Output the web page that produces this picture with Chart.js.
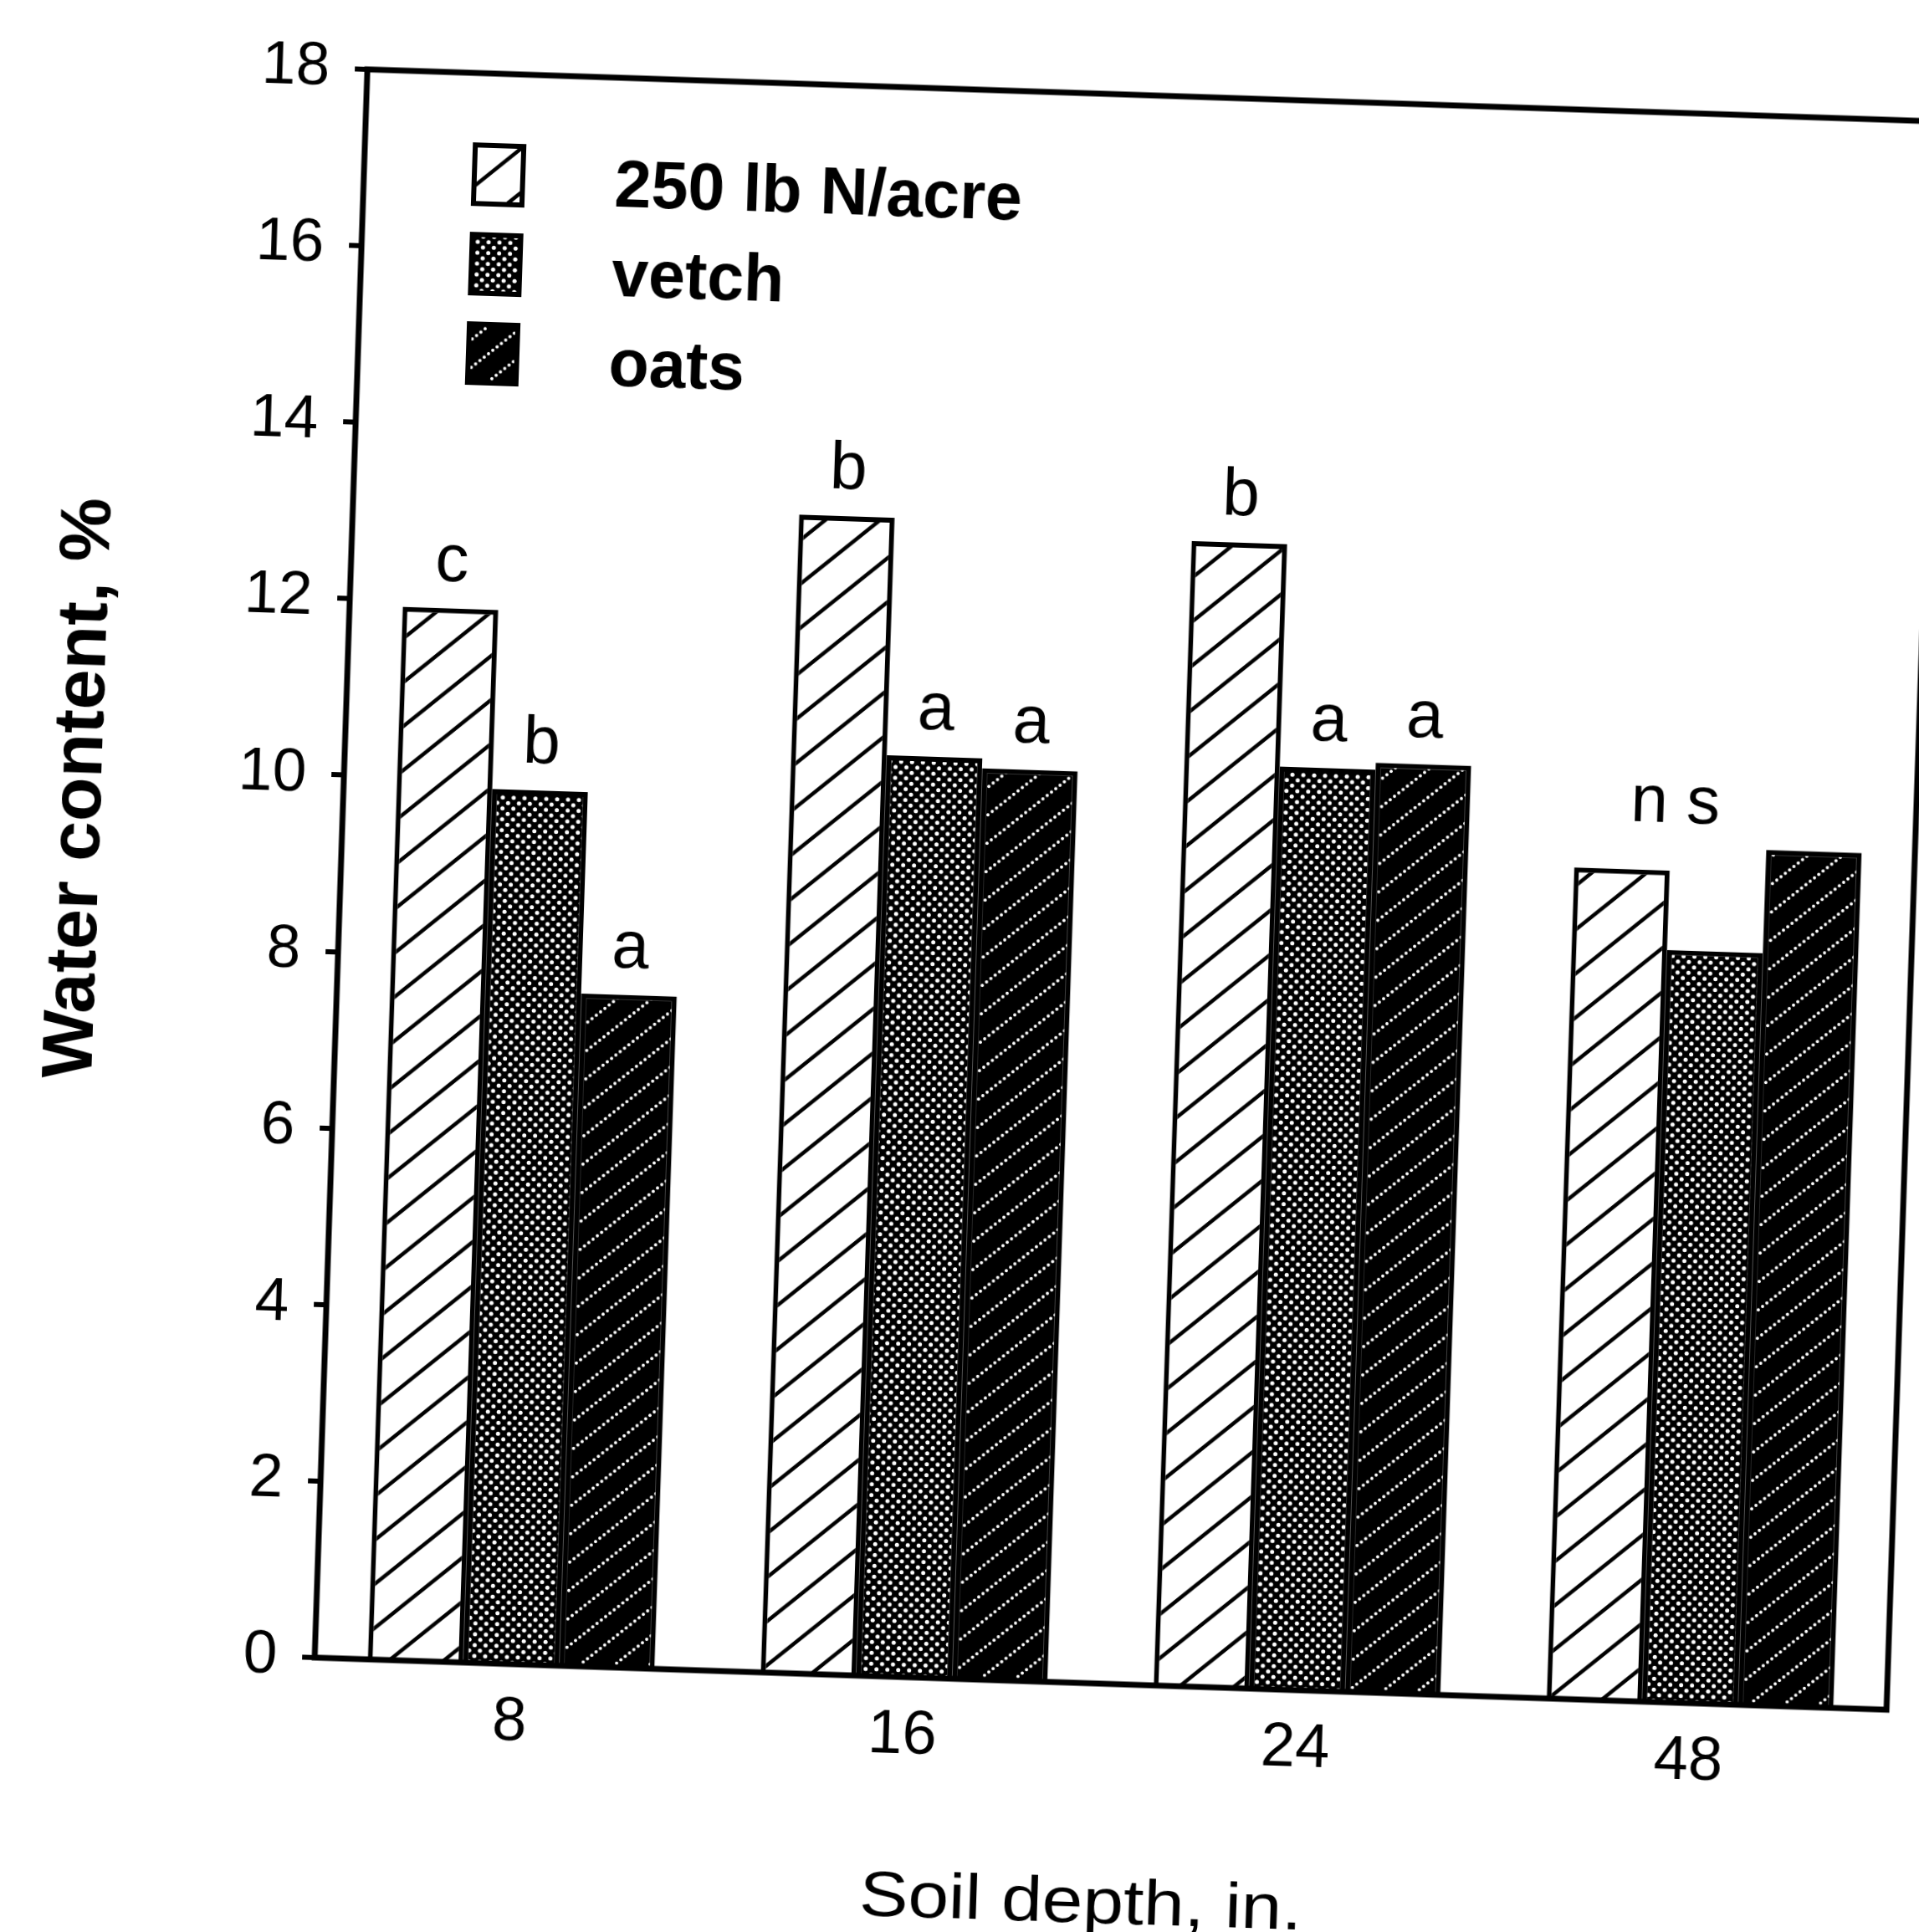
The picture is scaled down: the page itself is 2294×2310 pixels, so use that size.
<!DOCTYPE html>
<html>
<head>
<meta charset="utf-8">
<script src="https://cdn.jsdelivr.net/npm/chart.js@4/dist/chart.umd.min.js"></script>
<style>
  html, body { margin: 0; padding: 0; background: #fff; overflow: hidden; }
  /* the scanned figure sits slightly tilted on the page */
  #wrap { position: absolute; left: 0; top: 0; width: 2294px; height: 2310px;
          transform: rotate(1.9deg); transform-origin: 50% 50%; }
</style>
</head>
<body>
<div id="wrap"><canvas id="waterChart" width="2294" height="2310"></canvas></div>
<script>

// data
const depths = ["8", "16", "24", "48"];
const nitrogen = [11.93, 13.12, 12.97, 9.42];
const vetch = [9.90, 10.43, 10.45, 8.52];
const oats = [7.62, 10.32, 10.53, 9.69];

// significance letters above each bar
const sigNitrogen = ["c", "b", "b", ""];
const sigVetch = ["b", "a", "a", ""];
const sigOats = ["a", "a", "a", ""];
const groupNote = ["", "", "", "n s"];

const FONT = "'Liberation Sans', Arial, Helvetica, sans-serif";

function hatchPattern() {
    const w = 63, h = 54;
    const c = document.createElement('canvas');
    c.width = w; c.height = h;
    const g = c.getContext('2d');
    g.fillStyle = "#fff";
    g.fillRect(0, 0, w, h);
    g.strokeStyle = "#000";
    g.lineWidth = 4.5;
    for (let k = -1; k <= 1; k++) {
        g.beginPath();
        g.moveTo(-w, 2 * h + k * h);
        g.lineTo(2 * w, -h + k * h);
        g.stroke();
    }
    return g.createPattern(c, 'repeat');
}

function dotPattern() {
    const s = 13;
    const c = document.createElement('canvas');
    c.width = s; c.height = s;
    const g = c.getContext('2d');
    g.fillStyle = "#000";
    g.fillRect(0, 0, s, s);
    g.fillStyle = "#fff";
    [[3.2, 3.2], [9.7, 9.7]].forEach(function (p) {
        g.beginPath();
        g.arc(p[0], p[1], 2.5, 0, Math.PI * 2);
        g.fill();
    });
    return g.createPattern(c, 'repeat');
}

function dottedHatchPattern() {
    const w = 40, h = 34;
    const c = document.createElement('canvas');
    c.width = w; c.height = h;
    const g = c.getContext('2d');
    g.fillStyle = "#000";
    g.fillRect(0, 0, w, h);
    g.fillStyle = "#fff";
    for (let k = -1; k <= 1; k++) {
        for (let i = -1; i <= 9; i++) {
            const t = i / 8;
            g.beginPath();
            g.arc(t * w, h - t * h + k * h, 1.9, 0, Math.PI * 2);
            g.fill();
        }
    }
    return g.createPattern(c, 'repeat');
}

function drawScaled(ctx, text, x, y, sx, align) {
    ctx.save();
    ctx.translate(x, y);
    ctx.scale(sx, 1);
    ctx.textAlign = align;
    ctx.fillText(text, 0, 0);
    ctx.restore();
}

const framePlugin = {
    id: 'frame',
    afterDatasetsDraw(chart) {
        const ctx = chart.ctx, a = chart.chartArea;
        ctx.save();
        ctx.strokeStyle = "#000";
        ctx.lineWidth = 7;
        ctx.strokeRect(a.left, a.top, a.right - a.left, a.bottom - a.top);
        ctx.restore();
    }
};

const letterPlugin = {
    id: 'letters',
    afterDatasetsDraw(chart) {
        const ctx = chart.ctx;
        const sigs = [sigNitrogen, sigVetch, sigOats];
        ctx.save();
        ctx.fillStyle = "#000";
        ctx.font = "80px " + FONT;
        ctx.textAlign = "center";
        ctx.textBaseline = "alphabetic";
        sigs.forEach(function (list, i) {
            const meta = chart.getDatasetMeta(i);
            list.forEach(function (txt, j) {
                if (!txt) return;
                const bar = meta.data[j];
                ctx.fillText(txt, bar.x, bar.y - 33);
            });
        });
        const m0 = chart.getDatasetMeta(0), m1 = chart.getDatasetMeta(1);
        groupNote.forEach(function (txt, j) {
            if (!txt) return;
            const x = (m0.data[j].x + m1.data[j].x) / 2;
            ctx.fillText(txt, x + 4, m0.data[j].y - 58);
        });
        ctx.restore();
    }
};

const legendPlugin = {
    id: 'boxLegend',
    afterDatasetsDraw(chart) {
        const ctx = chart.ctx, a = chart.chartArea;
        ctx.save();
        chart.data.datasets.forEach(function (ds, i) {
            const bx = a.left + 132;
            const by = a.top + 86 + i * 107;
            ctx.fillStyle = ds.backgroundColor;
            ctx.fillRect(bx, by, 58, 70);
            ctx.strokeStyle = "#000";
            ctx.lineWidth = 6;
            ctx.strokeRect(bx, by, 58, 70);
            ctx.fillStyle = "#000";
            ctx.font = "bold 79px " + FONT;
            ctx.textBaseline = "alphabetic";
            drawScaled(ctx, ds.label, a.left + 300, by + 68, 1, "left");
        });
        ctx.restore();
    }
};

const titlePlugin = {
    id: 'axisTitles',
    afterDraw(chart) {
        const ctx = chart.ctx, a = chart.chartArea;
        ctx.save();
        ctx.fillStyle = "#000";
        ctx.textBaseline = "alphabetic";
        ctx.font = "bold 86px " + FONT;
        ctx.translate(a.left - 290, a.top + 0.458 * (a.bottom - a.top));
        ctx.rotate(-Math.PI / 2);
        drawScaled(ctx, "Water content, %", 0, 0, 1, "center");
        ctx.restore();

        ctx.save();
        ctx.fillStyle = "#000";
        ctx.textBaseline = "alphabetic";
        ctx.font = "76px " + FONT;
        drawScaled(ctx, "Soil depth, in.", a.left + 0.492 * (a.right - a.left), a.bottom + 286, 1.15, "center");
        ctx.restore();
    }
};

new Chart("waterChart", {
    type: "bar",
    data: {
        labels: depths,
        datasets: [
            { label: "250 lb N/acre", data: nitrogen, backgroundColor: hatchPattern(), borderColor: "#000", borderWidth: 6 },
            { label: "vetch", data: vetch, backgroundColor: dotPattern(), borderColor: "#000", borderWidth: 6 },
            { label: "oats", data: oats, backgroundColor: dottedHatchPattern(), borderColor: "#000", borderWidth: 6 }
        ]
    },
    options: {
        responsive: false,
        animation: false,
        layout: { padding: { top: 107, right: 10, left: 0, bottom: 0 } },
        datasets: { bar: { categoryPercentage: 0.73, barPercentage: 1.0 } },
        plugins: {
            legend: { display: false },
            tooltip: { enabled: false }
        },
        scales: {
            x: {
                grid: { display: false },
                border: { display: false },
                ticks: { color: "#000", font: { family: FONT, size: 74 }, padding: 18 },
                afterFit(scale) { scale.height = 303; }
            },
            y: {
                min: 0,
                max: 18,
                ticks: { stepSize: 2, color: "#000", font: { family: FONT, size: 73 }, padding: 30 },
                grid: { drawOnChartArea: false, drawTicks: true, tickLength: 15, color: "#000", lineWidth: 6 },
                border: { display: false },
                afterFit(scale) { scale.width = 404; }
            }
        }
    },
    plugins: [framePlugin, letterPlugin, legendPlugin, titlePlugin]
});
</script>
</body>
</html>
